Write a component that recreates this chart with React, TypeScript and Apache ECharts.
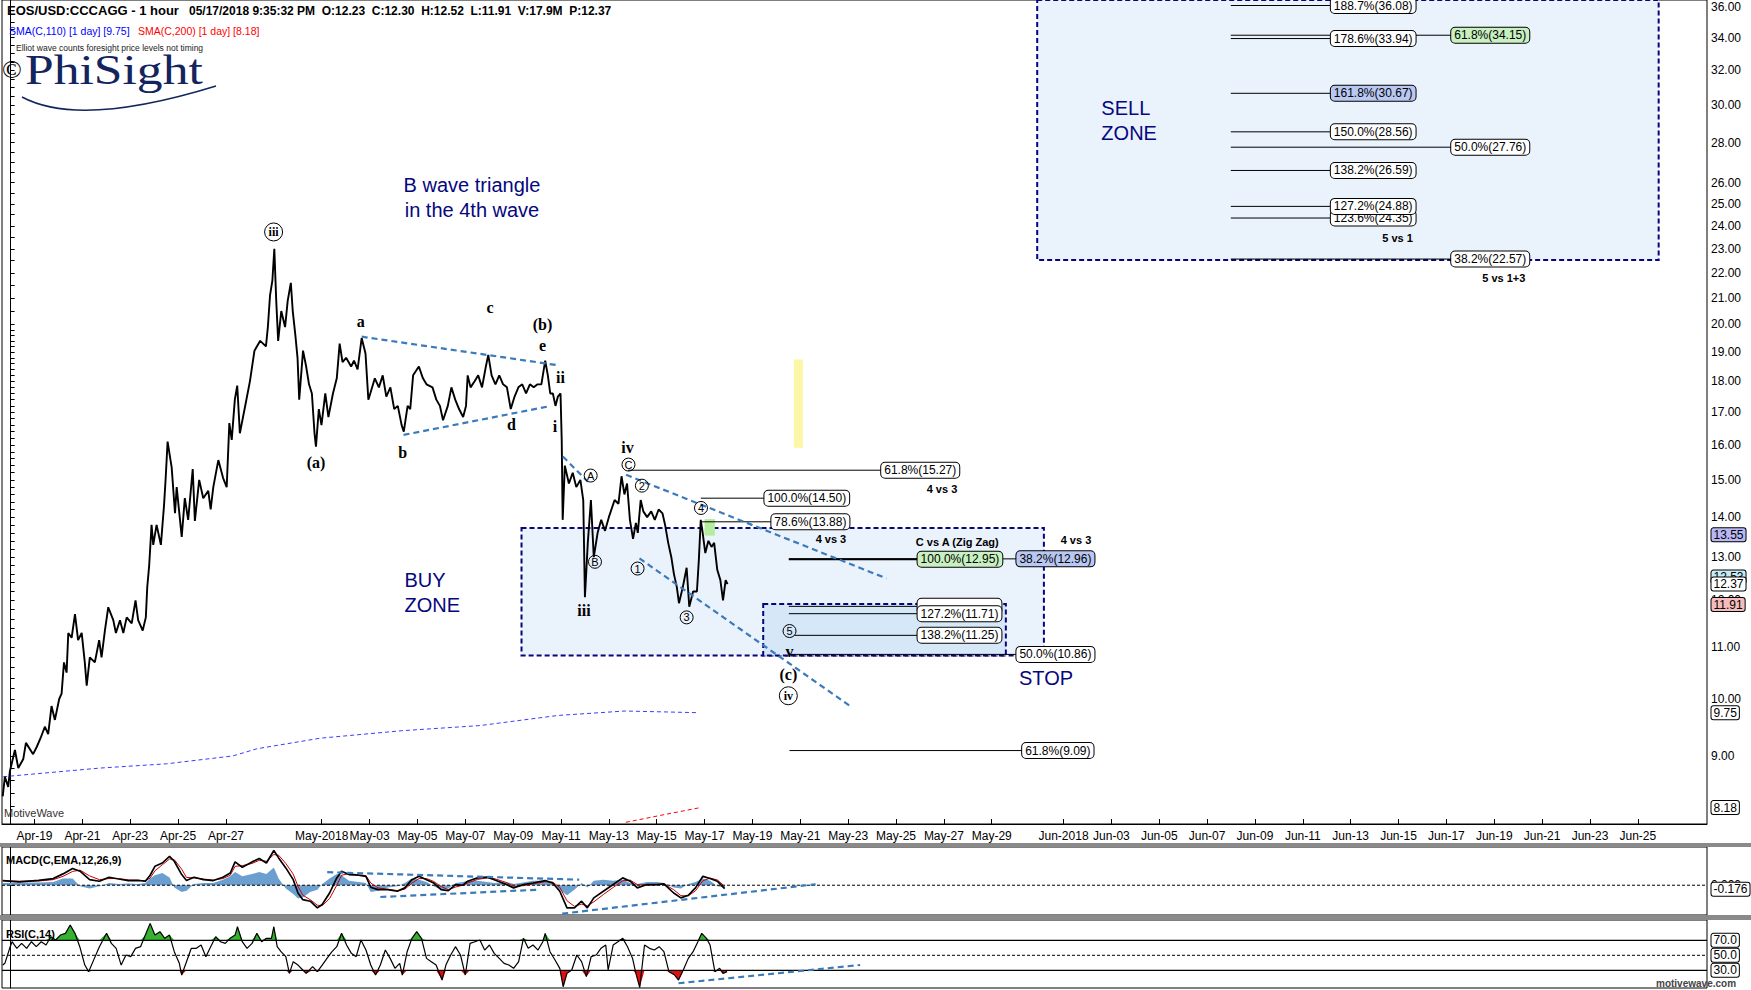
import React, { useEffect, useRef } from "react";
import * as echarts from "echarts";

const FONT = '"Liberation Sans", Arial, sans-serif';
const SERIF = '"Liberation Serif", "Times New Roman", serif';
const NAVY = "#06067e";
const TREND = "#3b7abb";

// x axis: days since 2018-04-18 00:00
const X_MIN = -0.36;
const X_MAX = 70.89;
const P_MIN = 7.935;
const P_MAX = 36.45;
const MACD_MIN = -1.34;
const MACD_MAX = 1.72;
const RSI_MIN = 6.4;
const RSI_MAX = 97.07;

const dateTicks = [1, 3, 5, 7, 9, 13, 15, 17, 19, 21, 23, 25, 27, 29, 31, 33, 35, 37, 39, 41, 44, 46, 48, 50, 52, 54, 56, 58, 60, 62, 64, 66, 68];
const priceLabels = [9, 10, 11, 12, 13, 14, 15, 16, 17, 18, 19, 20, 21, 22, 23, 24, 25, 26, 28, 30, 32, 34, 36];

// [day, price]
const price: [number, number][] = [
  [-0.33, 8.35], [-0.24, 8.66], [-0.1, 8.5], [-0.03, 8.75], [0.18, 9.1], [0.32, 8.8], [0.53, 8.95], [0.64, 9.22], [0.94, 9.03], [1.09, 9.15], [1.25, 9.3], [1.43, 9.5], [1.57, 9.37], [1.71, 9.87], [1.85, 9.62], [2.03, 10.0], [2.13, 10.1], [2.23, 10.7], [2.34, 10.5], [2.41, 11.3], [2.55, 11.2], [2.69, 11.7], [2.82, 11.15], [2.97, 11.3], [3.1, 10.7], [3.18, 10.25], [3.31, 10.8], [3.52, 10.7], [3.7, 11.15], [3.8, 10.8], [3.94, 11.35], [4.08, 11.85], [4.29, 11.57], [4.4, 11.3], [4.57, 11.57], [4.71, 11.3], [4.85, 11.63], [5.06, 11.5], [5.22, 12.0], [5.33, 11.57], [5.52, 11.35], [5.65, 11.63], [5.71, 12.3], [5.79, 12.8], [5.89, 13.8], [5.96, 13.3], [6.1, 13.8], [6.28, 13.3], [6.41, 14.3], [6.48, 15.05], [6.56, 16.1], [6.73, 15.35], [6.87, 14.1], [6.94, 14.8], [7.15, 13.5], [7.28, 14.5], [7.42, 13.93], [7.61, 15.3], [7.7, 13.9], [7.88, 15.0], [8.05, 14.5], [8.26, 14.7], [8.36, 14.2], [8.47, 14.8], [8.68, 15.56], [8.88, 15.05], [9.03, 14.8], [9.14, 16.66], [9.24, 16.15], [9.37, 17.4], [9.47, 17.86], [9.58, 16.35], [9.79, 17.15], [10.0, 18.0],
  [10.19, 19.05], [10.43, 19.4], [10.67, 19.2], [10.75, 19.9], [10.84, 21.1], [10.94, 21.7], [11.02, 23.0], [11.1, 20.9], [11.18, 19.4], [11.31, 20.5], [11.47, 19.9], [11.58, 20.9], [11.71, 21.6], [11.79, 20.5], [11.9, 19.6], [11.99, 18.8], [12.06, 17.4], [12.22, 19.05], [12.35, 18.5], [12.47, 17.9], [12.59, 17.6], [12.7, 16.35], [12.76, 15.95], [12.88, 17.1], [12.99, 16.6], [13.15, 17.6], [13.28, 16.85], [13.47, 17.6], [13.63, 18.1], [13.75, 19.3], [13.87, 18.65], [14.02, 18.8], [14.23, 18.5], [14.35, 18.7], [14.5, 18.4], [14.67, 19.5], [14.83, 18.95], [14.95, 17.4], [15.03, 17.6], [15.22, 18.1], [15.39, 17.8], [15.55, 18.2], [15.7, 17.5], [15.87, 17.8], [16.03, 17.1], [16.18, 17.2], [16.34, 16.6], [16.43, 16.4], [16.59, 17.2], [16.7, 17.1], [16.82, 18.2], [17.06, 18.5], [17.23, 18.1], [17.38, 17.9], [17.63, 17.8], [17.79, 17.4], [17.94, 17.2], [18.07, 16.75], [18.27, 17.2], [18.42, 17.8], [18.58, 17.4], [18.74, 17.1], [18.91, 16.85], [19.03, 17.2], [19.1, 18.2], [19.22, 17.8], [19.39, 18.0], [19.54, 18.2], [19.7, 17.8], [19.86, 18.5], [19.96, 18.9], [20.1, 18.2], [20.26, 17.9], [20.42, 18.2], [20.58, 17.9], [20.74, 17.8], [20.9, 17.1], [21.06, 17.5], [21.22, 17.8], [21.38, 17.9], [21.54, 17.6], [21.7, 17.9], [21.86, 17.8], [22.02, 17.9], [22.18, 17.9], [22.34, 18.7], [22.45, 18.2], [22.55, 17.6], [22.66, 17.6], [22.77, 17.2], [22.87, 17.5], [22.98, 17.6], [23.03, 16.15], [23.07, 13.93],
  [23.16, 15.4], [23.33, 14.9], [23.49, 15.2], [23.64, 14.8], [23.81, 15.0], [23.93, 14.45], [24.0, 12.07], [24.12, 13.35], [24.25, 14.45], [24.37, 13.0], [24.53, 13.6], [24.68, 13.93], [24.84, 13.65], [25.0, 14.0], [25.24, 14.45], [25.4, 14.35], [25.53, 15.1], [25.65, 14.6], [25.76, 14.9], [25.88, 13.93], [26.01, 13.45], [26.13, 13.85], [26.21, 13.6], [26.33, 14.45], [26.44, 14.15], [26.6, 14.0], [26.77, 14.15], [26.92, 13.93], [27.08, 14.2], [27.24, 14.1], [27.35, 13.8], [27.48, 13.35], [27.61, 13.0], [27.72, 12.6], [27.84, 12.3], [27.93, 11.94], [28.09, 12.3], [28.25, 12.75], [28.36, 11.86], [28.52, 12.2], [28.68, 12.2], [28.76, 12.93], [28.84, 13.93], [28.92, 13.6], [29.03, 13.1], [29.16, 13.4], [29.29, 13.25], [29.4, 13.35], [29.53, 12.7], [29.66, 12.46], [29.77, 12.0], [29.88, 12.46], [29.96, 12.37],
];

const sma110: [number, number][] = [
  [-0.31, 8.66], [3.73, 8.8], [6.52, 8.87], [9.29, 9.0], [10.29, 9.12], [12.93, 9.3], [16.35, 9.43], [19.61, 9.52], [22.87, 9.7], [25.67, 9.78], [28.72, 9.75],
];
const sma200: [number, number][] = [[25.71, 7.96], [27.26, 8.07], [28.83, 8.18]];

const macdDays = [-0.33, 0.36, 1.17, 1.78, 2.19, 2.59, 2.9, 3.3, 3.71, 4.11, 4.52, 4.92, 5.32, 5.63, 5.83, 6.03, 6.34, 6.64, 6.84, 7.15, 7.35, 7.66, 8.06, 8.47, 8.87, 9.18, 9.38, 9.68, 10.09, 10.39, 10.69, 11.0, 11.2, 11.5, 11.81, 12.01, 12.21, 12.52, 12.82, 13.02, 13.33, 13.63, 13.83, 14.14, 14.54, 14.85, 15.05, 15.35, 15.76, 16.16, 16.47, 16.77, 17.07, 17.38, 17.68, 17.99, 18.29, 18.6, 18.9, 19.1, 19.51, 19.91, 20.21, 20.72, 21.02, 21.43, 21.83, 22.34, 22.65, 22.95, 23.25, 23.56, 23.86, 24.1, 24.37, 24.77, 25.18, 25.58, 25.89, 26.19, 26.59, 27.0, 27.3, 27.71, 28.01, 28.32, 28.62, 28.93, 29.23, 29.53, 29.84];
const macdLine = [0.21, 0.15, 0.22, 0.3, 0.51, 0.75, 0.63, 0.25, 0.18, 0.36, 0.28, 0.21, 0.22, 0.18, 0.45, 0.85, 1.0, 1.3, 1.08, 0.48, 0.21, 0.36, 0.25, 0.21, 0.36, 0.55, 1.05, 0.81, 1.05, 1.2, 1.0, 1.56, 1.23, 0.78, 0.25, -0.35, -0.65, -0.72, -1.02, -0.87, -0.35, 0.33, 0.63, 0.48, 0.45, 0.4, -0.09, -0.2, -0.2, -0.27, -0.12, 0.25, 0.4, 0.25, 0.1, -0.2, -0.24, 0.03, 0.0, 0.18, 0.33, 0.36, 0.25, 0.03, -0.12, 0.03, 0.1, 0.21, 0.1, -0.27, -1.02, -1.02, -0.72, -1.02, -0.57, -0.27, 0.03, 0.33, 0.18, -0.12, 0.03, 0.03, 0.06, -0.35, -0.57, -0.45, -0.12, 0.4, 0.3, 0.18, -0.15];
const macdSignal = [0.2, 0.18, 0.19, 0.25, 0.4, 0.62, 0.68, 0.42, 0.25, 0.3, 0.3, 0.24, 0.22, 0.2, 0.32, 0.65, 0.92, 1.18, 1.15, 0.72, 0.35, 0.33, 0.28, 0.23, 0.3, 0.45, 0.85, 0.88, 0.98, 1.12, 1.08, 1.38, 1.35, 0.98, 0.5, -0.05, -0.45, -0.65, -0.9, -0.92, -0.6, 0.0, 0.45, 0.52, 0.47, 0.43, 0.1, -0.12, -0.18, -0.24, -0.18, 0.1, 0.3, 0.3, 0.17, -0.06, -0.2, -0.08, 0.0, 0.1, 0.26, 0.33, 0.3, 0.12, -0.05, -0.02, 0.06, 0.16, 0.14, -0.1, -0.7, -0.95, -0.85, -0.93, -0.75, -0.42, -0.1, 0.2, 0.23, 0.03, 0.0, 0.03, 0.05, -0.2, -0.47, -0.48, -0.25, 0.2, 0.32, 0.24, -0.05];
const macdHist = [0.1, 0.12, 0.12, 0.15, 0.3, 0.3, -0.05, -0.15, -0.05, 0.1, 0.05, 0.08, 0.05, 0.1, 0.3, 0.45, 0.55, 0.35, -0.1, -0.3, -0.25, 0.05, 0.1, 0.1, 0.25, 0.4, 0.6, 0.4, 0.5, 0.6, 0.5, 0.8, 0.3, -0.15, -0.4, -0.6, -0.55, -0.3, -0.2, 0.05, 0.3, 0.5, 0.45, 0.2, 0.15, 0.1, -0.3, -0.25, -0.1, -0.05, 0.1, 0.3, 0.25, 0.15, -0.05, -0.2, -0.15, 0.1, 0.15, 0.2, 0.2, 0.15, 0.1, 0.15, 0.05, 0.12, 0.2, 0.2, 0.1, -0.2, -0.45, -0.2, 0.1, -0.1, 0.2, 0.25, 0.2, 0.25, 0.1, 0.05, 0.15, 0.15, 0.1, -0.1, -0.15, 0.05, 0.15, 0.3, 0.2, -0.05, -0.1];

const rsi: [number, number][] = [
  [-0.33, 37], [-0.24, 39.3], [-0.04, 59.3], [0.06, 68.1], [0.26, 59.3], [0.46, 65.9], [0.67, 59.3], [0.87, 68.1], [1.07, 61.5], [1.28, 68.1], [1.48, 63.7], [1.68, 74.8], [1.88, 70.4], [2.08, 77], [2.29, 79.3], [2.49, 90.4], [2.69, 79.3], [2.89, 61.5], [3.1, 37], [3.26, 28.2], [3.5, 45.9], [3.71, 61.5], [4.01, 79.3], [4.21, 65.9], [4.41, 59.3], [4.62, 37], [4.82, 50.4], [5.02, 48.2], [5.22, 59.3], [5.43, 61.5], [5.63, 77], [5.83, 92.6], [6.03, 77], [6.24, 81.5], [6.44, 72.6], [6.64, 77], [6.84, 54.8], [7.05, 39.3], [7.15, 23.7], [7.35, 41.5], [7.55, 59.3], [7.76, 59.3], [7.96, 63.7], [8.16, 48.2], [8.36, 61.5], [8.57, 74.8], [8.77, 68.1], [8.97, 65.9], [9.17, 72.6], [9.38, 77], [9.48, 88.1], [9.68, 68.1], [9.88, 59.3], [10.09, 65.9], [10.29, 79.3], [10.49, 68.1], [10.69, 72.6], [10.9, 72.6], [11.0, 88.1], [11.14, 61.5], [11.3, 54.8], [11.5, 48.2], [11.65, 25.9], [11.81, 41.5], [12.01, 37], [12.21, 30.4], [12.35, 25.9], [12.62, 34.8], [12.82, 28.2], [13.02, 37], [13.22, 45.9], [13.43, 54.8], [13.63, 61.5], [13.83, 79.3], [14.04, 63.7], [14.24, 52.6], [14.44, 48.2], [14.64, 70.4], [14.85, 57], [15.05, 37], [15.25, 23.7], [15.45, 37], [15.66, 57], [15.86, 45.9], [16.06, 32.6], [16.26, 39.3], [16.37, 23.7], [16.57, 54.8], [16.77, 72.6], [16.97, 81.5], [17.17, 72.6], [17.38, 45.9], [17.58, 41.5], [17.78, 37], [18.03, 17], [18.19, 37], [18.39, 50.4], [18.59, 61.5], [18.8, 50.4], [19.0, 23.7], [19.2, 65.9], [19.4, 68.1], [19.61, 70.4], [19.81, 57], [20.01, 63.7], [20.21, 52.6], [20.42, 45.9], [20.62, 39.3], [20.82, 37], [21.02, 32.6], [21.23, 41.5], [21.43, 72.6], [21.63, 59.3], [21.83, 63.7], [22.04, 57], [22.24, 68.1], [22.34, 79.3], [22.54, 54.8], [22.75, 43.7], [22.95, 32.6], [23.09, 8.1], [23.25, 25.9], [23.45, 30.4], [23.66, 50.4], [23.86, 41.5], [24.06, 21.5], [24.26, 48.2], [24.47, 50.4], [24.67, 59.3], [24.87, 63.7], [24.97, 30.4], [25.18, 63.7], [25.38, 68.1], [25.58, 72.6], [25.78, 61.5], [25.99, 45.9], [26.13, 25.9], [26.29, 7], [26.49, 63.7], [26.7, 59.3], [26.9, 57], [27.1, 61.5], [27.3, 54.8], [27.51, 28.2], [27.75, 23.7], [27.91, 17], [28.11, 30.4], [28.32, 45.9], [28.52, 54.8], [28.72, 68.1], [28.88, 79.3], [29.08, 72.6], [29.23, 63.7], [29.43, 28.2], [29.63, 32.6], [29.77, 25.9], [29.94, 28.2],
];

// price tags on the right axis
const priceTags = [
  { v: 13.55, bg: "#b8b8f4" },
  { v: 12.53, bg: "#c6ecf8" },
  { v: 12.37, bg: "#ffffff" },
  { v: 11.91, bg: "#f6bcbc" },
  { v: 9.75, bg: "#ffffff" },
  { v: 8.18, bg: "#ffffff" },
];

// Fibonacci levels: label, price, line start day, box day
const fibLevels = [
  { label: "188.7%(36.08)", price: 36.08, from: 50.99, box: 55.15, fill: "#ffffff", w: 1 },
  { label: "61.8%(34.15)", price: 34.15, from: 50.99, box: 60.18, fill: "#c8f0c0", w: 1 },
  { label: "178.6%(33.94)", price: 33.94, from: 50.99, box: 55.15, fill: "#ffffff", w: 1 },
  { label: "161.8%(30.67)", price: 30.67, from: 50.99, box: 55.15, fill: "#b8c8f2", w: 1 },
  { label: "150.0%(28.56)", price: 28.56, from: 50.99, box: 55.15, fill: "#ffffff", w: 1 },
  { label: "50.0%(27.76)", price: 27.76, from: 50.99, box: 60.18, fill: "#ffffff", w: 1 },
  { label: "138.2%(26.59)", price: 26.59, from: 50.99, box: 55.15, fill: "#ffffff", w: 1 },
  { label: "123.6%(24.35)", price: 24.35, from: 50.99, box: 55.15, fill: "#ffffff", w: 1 },
  { label: "127.2%(24.88)", price: 24.88, from: 50.99, box: 55.15, fill: "#ffffff", w: 1 },
  { label: "38.2%(22.57)", price: 22.57, from: 50.99, box: 60.18, fill: "#ffffff", w: 1 },
  { label: "61.8%(15.27)", price: 15.27, from: 25.8, box: 36.36, fill: "#ffffff", w: 1 },
  { label: "100.0%(14.50)", price: 14.5, from: 28.84, box: 31.48, fill: "#ffffff", w: 1 },
  { label: "78.6%(13.88)", price: 13.88, from: 28.84, box: 31.77, fill: "#ffffff", w: 1 },
  { label: "38.2%(12.96)", price: 12.96, from: 32.52, box: 42.01, fill: "#b8c8f2", w: 1 },
  { label: "100.0%(12.95)", price: 12.95, from: 32.52, box: 37.88, fill: "#c8f0c0", w: 2 },
  { label: "123.6%(11.87)", price: 11.87, from: 32.52, box: 37.88, fill: "#ffffff", w: 1, hidden: true },
  { label: "127.2%(11.71)", price: 11.71, from: 32.52, box: 37.88, fill: "#ffffff", w: 1 },
  { label: "138.2%(11.25)", price: 11.25, from: 32.76, box: 37.88, fill: "#ffffff", w: 1 },
  { label: "50.0%(10.86)", price: 10.86, from: 32.52, box: 42.01, fill: "#ffffff", w: 1 },
  { label: "61.8%(9.09)", price: 9.09, from: 32.55, box: 42.25, fill: "#ffffff", w: 1 },
];

const fibNotes = [
  { t: "4 vs 3", d: 38.92, p: 14.74 },
  { t: "4 vs 3", d: 34.28, p: 13.44 },
  { t: "C vs A (Zig Zag)", d: 39.56, p: 13.38 },
  { t: "4 vs 3", d: 44.52, p: 13.42 },
  { t: "5 vs 1", d: 57.96, p: 23.48 },
  { t: "5 vs 1+3", d: 62.4, p: 21.78 },
];

const waveLabels = [
  { t: "iii", d: 10.99, p: 23.73, circle: "big" },
  { t: "(a)", d: 12.76, p: 15.48 },
  { t: "a", d: 14.63, p: 20.1 },
  { t: "b", d: 16.39, p: 15.79 },
  { t: "c", d: 20.03, p: 20.62 },
  { t: "d", d: 20.93, p: 16.63 },
  { t: "e", d: 22.23, p: 19.25 },
  { t: "(b)", d: 22.23, p: 20.01 },
  { t: "ii", d: 22.98, p: 18.13 },
  { t: "i", d: 22.75, p: 16.55 },
  { t: "iv", d: 25.78, p: 15.92 },
  { t: "C", d: 25.82, p: 15.43, circle: "small" },
  { t: "A", d: 24.24, p: 15.12, circle: "small" },
  { t: "2", d: 26.38, p: 14.84, circle: "small" },
  { t: "4", d: 28.85, p: 14.24, circle: "small" },
  { t: "B", d: 24.42, p: 12.89, circle: "small" },
  { t: "1", d: 26.2, p: 12.73, circle: "small" },
  { t: "iii", d: 23.96, p: 11.77 },
  { t: "3", d: 28.25, p: 11.63, circle: "small" },
  { t: "5", d: 32.55, p: 11.34, circle: "small" },
  { t: "v", d: 32.55, p: 10.91 },
  { t: "(c)", d: 32.5, p: 10.47 },
  { t: "iv", d: 32.5, p: 10.06, circle: "big" },
];

const notes = [
  { t: "B wave triangle\nin the 4th wave", d: 19.28, p: 25.29, align: "center" },
  { t: "BUY\nZONE", d: 16.44, p: 12.17, align: "left" },
  { t: "SELL\nZONE", d: 45.56, p: 29.14, align: "left" },
  { t: "STOP", d: 43.27, p: 10.4, align: "center" },
];

const zones = [
  { d1: 21.35, d2: 43.18, bottom: 10.84, top: 13.72, fill: "#eaf2fc", dashed: true },
  { d1: 31.45, d2: 41.59, bottom: 10.84, top: 11.92, fill: "#d6e7f8", dashed: true },
  { d1: 42.9, d2: 68.87, bottom: 22.53, top: 36.45, fill: "#eaf2fc", dashed: true },
  { d1: 32.73, d2: 33.11, bottom: 15.92, top: 18.74, fill: "#fbf7a6", dashed: false },
  { d1: 29.0, d2: 29.43, bottom: 13.53, top: 13.95, fill: "#b6eca0", dashed: false },
];

const priceTrends: [number, number][][] = [
  [[14.67, 19.55], [22.82, 18.55]],
  [[16.42, 16.3], [22.45, 17.18]],
  [[23.08, 15.66], [24.12, 14.95]],
  [[25.72, 15.14], [36.6, 12.5]],
  [[26.28, 12.97], [35.08, 9.87]],
];
const macdTrends: [number, number][][] = [
  [[13.23, 0.585], [23.76, 0.25]],
  [[15.45, -0.53], [22.08, -0.2]],
  [[23.05, -1.28], [33.64, 0.045]],
];
const rsiTrends: [number, number][][] = [[[27.91, 12.7], [35.5, 37.1]]];

const MONTHS = ["Jan", "Feb", "Mar", "Apr", "May", "Jun", "Jul"];
function dayLabel(v: number) {
  const dt = new Date(Date.UTC(2018, 3, 18) + Math.round(v) * 86400000);
  const m = MONTHS[dt.getUTCMonth()];
  const dd = dt.getUTCDate();
  return dd === 1 ? `${m}-2018` : `${m}-${String(dd).padStart(2, "0")}`;
}

function buildOption() {
  const L = Math.log;
  const toLog = (arr: [number, number][]) => arr.map(([d, p]) => [d, L(p)]);

  const yTicks: number[] = [];
  for (let i = 41; i < 100; i++) yTicks.push(L(i / 5));
  for (let i = 40; i <= 72; i++) yTicks.push(L(i / 2));

  const line = (data: any[], xi: number, style: any, z = 3, extra: any = {}) => ({
    type: "line",
    xAxisIndex: xi,
    yAxisIndex: xi,
    data,
    symbol: "none",
    silent: true,
    z,
    lineStyle: style,
    ...extra,
  });

  const labelScatter = (xi: number, items: any[], z = 6, clip = true) => ({
    type: "scatter",
    xAxisIndex: xi,
    yAxisIndex: xi,
    symbolSize: 1,
    silent: true,
    clip,
    z,
    itemStyle: { color: "rgba(0,0,0,0)", opacity: 1 },
    data: items,
  });

  const series: any[] = [];

  series.push(
    line(toLog(price), 0, { color: "#000", width: 1.9 }, 4, {
      markArea: {
        silent: true,
        label: { show: false },
        data: zones.map((z) => [
          {
            coord: [z.d1, L(z.top)],
            itemStyle: {
              color: z.fill,
              opacity: 1,
              borderColor: z.dashed ? NAVY : z.fill,
              borderWidth: z.dashed ? 2 : 0,
              borderType: [5, 3],
            },
          },
          { coord: [z.d2, L(z.bottom)] },
        ]),
      },
    })
  );
  series.push(line(toLog(sma110), 0, { color: "#3c3cff", width: 1, type: [4, 3] }, 3));
  series.push(line(toLog(sma200), 0, { color: "#ff0000", width: 1, type: [4, 3] }, 3));

  fibLevels.forEach((f) => {
    series.push(
      line(
        [
          [f.from, L(f.price)],
          [f.box, L(f.price)],
        ],
        0,
        { color: "#000", width: f.w },
        3
      )
    );
  });

  priceTrends.forEach((t) => {
    series.push(line(t.map(([d, p]) => [d, L(p)]), 0, { color: TREND, width: 2.2, type: [6, 4] }, 5));
  });

  series.push(
    labelScatter(
      0,
      fibLevels.map((f) => ({
        value: [f.box, L(f.price)],
        label: {
          show: true,
          position: "right",
          distance: 0,
          formatter: f.label,
          backgroundColor: f.fill,
          borderColor: "#000",
          borderWidth: 1,
          borderRadius: 4,
          padding: [2, 3, 1, 3],
          fontSize: 12,
          fontFamily: FONT,
          color: (f as any).hidden ? "rgba(0,0,0,0)" : "#000",
        },
      })),
      7
    )
  );

  series.push(
    labelScatter(
      0,
      fibNotes.map((n) => ({
        value: [n.d, L(n.p)],
        label: { show: true, position: "inside", formatter: n.t, fontSize: 11, fontWeight: "bold", fontFamily: FONT, color: "#000" },
      }))
    )
  );

  series.push(
    labelScatter(
      0,
      waveLabels.map((w) => {
        const big = w.circle === "big";
        const label: any = w.circle
          ? {
              show: true,
              position: "inside",
              formatter: w.t,
              fontFamily: big ? SERIF : FONT,
              fontWeight: big ? "bold" : "normal",
              fontSize: big ? 12 : 11,
              color: "#000",
              width: big ? 18 : 13,
              height: big ? 18 : 13,
              lineHeight: big ? 18 : 13,
              align: "center",
              verticalAlign: "middle",
              borderColor: "#000",
              borderWidth: 1,
              borderRadius: big ? 10 : 7,
              padding: 0,
            }
          : { show: true, position: "inside", formatter: w.t, fontFamily: SERIF, fontWeight: "bold", fontSize: 16, color: "#000" };
        return { value: [w.d, L(w.p)], label };
      }),
      8
    )
  );

  series.push(
    labelScatter(
      0,
      notes.map((n) => ({
        value: [n.d, L(n.p)],
        label: {
          show: true,
          position: n.align === "left" ? "right" : "inside",
          distance: 0,
          align: n.align,
          formatter: n.t,
          fontSize: 20,
          lineHeight: 25,
          fontFamily: FONT,
          color: NAVY,
        },
      }))
    )
  );

  series.push(
    labelScatter(
      0,
      priceTags.map((t) => ({
        value: [X_MAX, L(t.v)],
        label: {
          show: true,
          position: "right",
          distance: 4,
          formatter: t.v.toFixed(2),
          backgroundColor: t.bg,
          borderColor: "#000",
          borderWidth: 1,
          borderRadius: 2,
          padding: [1, 2, 0, 2],
          fontSize: 12,
          fontFamily: FONT,
          color: "#000",
        },
      })),
      9,
      false
    )
  );

  // MACD panel
  series.push(
    line(
      macdDays.map((d, i) => [d, macdHist[i]]),
      1,
      { width: 0, opacity: 0 },
      2,
      { areaStyle: { color: "#6b9fd0", opacity: 1 } }
    )
  );
  series.push(line([[X_MIN, 0], [X_MAX, 0]], 1, { color: "#000", width: 1, type: [3, 2] }, 3));
  series.push(line(macdDays.map((d, i) => [d, macdSignal[i]]), 1, { color: "#c80000", width: 1 }, 4));
  series.push(line(macdDays.map((d, i) => [d, macdLine[i]]), 1, { color: "#000", width: 1.7 }, 5));
  macdTrends.forEach((t) => series.push(line(t, 1, { color: TREND, width: 2.2, type: [6, 4] }, 6)));
  series.push(
    labelScatter(
      1,
      [
        {
          value: [X_MAX, -0.176],
          label: {
            show: true,
            position: "right",
            distance: 4,
            formatter: "-0.176",
            backgroundColor: "#fff",
            borderColor: "#000",
            borderWidth: 1,
            borderRadius: 2,
            padding: [1, 2, 0, 2],
            fontSize: 12,
            fontFamily: FONT,
            color: "#000",
          },
        },
      ],
      9,
      false
    )
  );

  // RSI panel
  series.push(
    line(rsi.map(([d, v]) => [d, Math.max(v, 70)]), 2, { width: 0, opacity: 0 }, 2, {
      areaStyle: { color: "#35b22f", opacity: 1, origin: 70 },
    })
  );
  series.push(
    line(rsi.map(([d, v]) => [d, Math.min(v, 30)]), 2, { width: 0, opacity: 0 }, 2, {
      areaStyle: { color: "#e01010", opacity: 1, origin: 30 },
    })
  );
  series.push(line([[X_MIN, 70], [X_MAX, 70]], 2, { color: "#000", width: 1.3 }, 3));
  series.push(line([[X_MIN, 50], [X_MAX, 50]], 2, { color: "#000", width: 1, type: [3, 2] }, 3));
  series.push(line([[X_MIN, 30], [X_MAX, 30]], 2, { color: "#000", width: 1.3 }, 3));
  series.push(line(rsi, 2, { color: "#000", width: 1.2 }, 4));
  rsiTrends.forEach((t) => series.push(line(t, 2, { color: TREND, width: 2.2, type: [6, 4] }, 6)));
  series.push(
    labelScatter(
      2,
      [70, 50, 30].map((v) => ({
        value: [X_MAX, v],
        label: {
          show: true,
          position: "right",
          distance: 4,
          formatter: v.toFixed(1),
          backgroundColor: "#fff",
          borderColor: "#000",
          borderWidth: 1,
          borderRadius: 2,
          padding: [1, 2, 0, 2],
          fontSize: 12,
          fontFamily: FONT,
          color: "#000",
        },
      })),
      9,
      false
    )
  );

  const gridBase = {
    left: 2,
    right: 44,
    show: true,
    borderColor: "#000",
    borderWidth: 1,
    backgroundColor: "#fff",
    containLabel: false,
    outerBoundsMode: "none",
  };

  const hiddenX = (gi: number) => ({ gridIndex: gi, type: "value", min: X_MIN, max: X_MAX, show: false });

  return {
    animation: false,
    backgroundColor: "#fff",
    grid: [
      { ...gridBase, top: 0, height: 824 },
      { ...gridBase, top: 847, height: 68 },
      { ...gridBase, top: 920, height: 68 },
    ],
    xAxis: [
      {
        gridIndex: 0,
        type: "value",
        min: X_MIN,
        max: X_MAX,
        axisLine: { show: true, onZero: false, lineStyle: { color: "#000", width: 1 } },
        axisTick: { show: true, inside: true, length: 5, customValues: dateTicks, lineStyle: { color: "#000" } },
        axisLabel: { show: true, customValues: dateTicks, formatter: dayLabel, color: "#000", fontSize: 12, fontFamily: FONT, margin: 6 },
        splitLine: { show: false },
      },
      hiddenX(1),
      hiddenX(2),
    ],
    yAxis: [
      {
        gridIndex: 0,
        type: "value",
        position: "right",
        min: L(P_MIN),
        max: L(P_MAX),
        axisLine: { show: true, lineStyle: { color: "#000" } },
        axisTick: { show: true, length: 4, customValues: yTicks, lineStyle: { color: "#000" } },
        axisLabel: {
          show: true,
          customValues: priceLabels.map(L),
          formatter: (v: number) => Math.exp(v).toFixed(2),
          color: "#000",
          fontSize: 12,
          fontFamily: FONT,
          margin: 4,
        },
        splitLine: { show: false },
      },
      {
        gridIndex: 1,
        type: "value",
        position: "right",
        min: MACD_MIN,
        max: MACD_MAX,
        axisLine: { show: true, lineStyle: { color: "#000" } },
        axisTick: { show: true, length: 4, customValues: [0], lineStyle: { color: "#000" } },
        axisLabel: { show: true, customValues: [0], formatter: () => "0.000", color: "#000", fontSize: 12, fontFamily: FONT, margin: 4 },
        splitLine: { show: false },
      },
      {
        gridIndex: 2,
        type: "value",
        position: "right",
        min: RSI_MIN,
        max: RSI_MAX,
        axisLine: { show: true, lineStyle: { color: "#000" } },
        axisTick: { show: false },
        axisLabel: { show: false },
        splitLine: { show: false },
      },
    ],
    series,
    graphic: [
      { type: "rect", z: 100, shape: { x: 0, y: 843, width: 1751, height: 4 }, style: { fill: "#8a8a8a" } },
      { type: "rect", z: 100, shape: { x: 0, y: 915, width: 1751, height: 5 }, style: { fill: "#8a8a8a" } },
      { type: "text", z: 100, x: 7, y: 4, style: { text: "EOS/USD:CCCAGG - 1 hour", font: `bold 13px ${FONT}`, fill: "#000", verticalAlign: "top" } },
      {
        type: "text",
        z: 100,
        x: 189,
        y: 5,
        style: { text: "05/17/2018 9:35:32 PM  O:12.23  C:12.30  H:12.52  L:11.91  V:17.9M  P:12.37", font: `bold 12px ${FONT}`, fill: "#000", verticalAlign: "top" },
      },
      { type: "text", z: 100, x: 9, y: 25, style: { text: "SMA(C,110) [1 day] [9.75]", font: `10.5px ${FONT}`, fill: "#0000ff", verticalAlign: "top" } },
      { type: "text", z: 100, x: 138, y: 25, style: { text: "SMA(C,200) [1 day] [8.18]", font: `10.5px ${FONT}`, fill: "#ff0000", verticalAlign: "top" } },
      { type: "text", z: 100, x: 16, y: 43, style: { text: "Elliot wave counts foresight price levels not timing", font: `8.5px ${FONT}`, fill: "#222", verticalAlign: "top" } },
      { type: "text", z: 100, x: 2, y: 56, style: { text: "\u00a9", font: `26px ${SERIF}`, fill: "#000", verticalAlign: "top" } },
      { type: "text", z: 100, x: 25, y: 48, scaleX: 1.2, style: { text: "PhiSight", font: `43px ${SERIF}`, fill: "#13245e", verticalAlign: "top" } },
      { type: "bezierCurve", z: 100, shape: { x1: 22, y1: 97, x2: 216, y2: 86, cpx1: 80, cpy1: 128 }, style: { stroke: "#13245e", lineWidth: 1.5, fill: "none" } },
      { type: "text", z: 100, x: 4, y: 807, style: { text: "MotiveWave", font: `11px ${FONT}`, fill: "#333", verticalAlign: "top" } },
      { type: "text", z: 100, x: 1656, y: 978, style: { text: "motivewave.com", font: `bold 10px ${FONT}`, fill: "#444", verticalAlign: "top" } },
      { type: "text", z: 100, x: 6, y: 854, style: { text: "MACD(C,EMA,12,26,9)", font: `bold 11px ${FONT}`, fill: "#000", verticalAlign: "top" } },
      { type: "text", z: 100, x: 6, y: 928, style: { text: "RSI(C,14)", font: `bold 11px ${FONT}`, fill: "#000", verticalAlign: "top" } },
    ],
  };
}

export default function App() {
  const ref = useRef<HTMLDivElement>(null);
  useEffect(() => {
    if (!ref.current) return;
    const chart = echarts.init(ref.current, null, { renderer: "svg" });
    chart.setOption(buildOption() as any);
    return () => chart.dispose();
  }, []);
  return <div ref={ref} style={{ position: "absolute", left: 0, top: 0, width: 1751, height: 990, background: "#fff" }} />;
}
